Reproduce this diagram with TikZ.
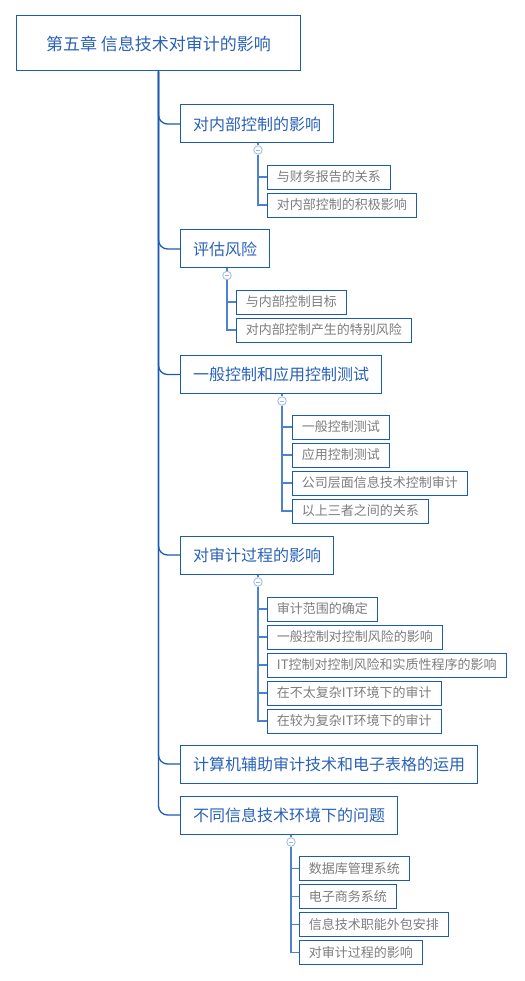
\documentclass[tikz,border=0pt]{standalone}
\usepackage{fontspec}
\setmainfont{Noto Sans CJK SC}
\usepackage{xcolor}
\usetikzlibrary{positioning}

\definecolor{mmblue}{HTML}{1C5BB4}
\definecolor{mmtext}{HTML}{2A62B8}
\definecolor{mmgray}{HTML}{7D7D7D}
\definecolor{mmline}{HTML}{4F82CC}
\definecolor{mmtoggle}{HTML}{9BB6E2}

\begin{document}
\begin{tikzpicture}[
				x=1pt, y=-1pt,
				rootbox/.style={
					rectangle,
					draw=mmblue,
					line width=1pt,
					fill=white,
					text=mmtext,
					minimum height=55pt,
					inner xsep=29.5pt,
					font=\fontsize{17pt}{20pt}\selectfont
				},
				topic/.style={
					rectangle,
					draw=mmblue,
					line width=1pt,
					fill=white,
					text=mmtext,
					anchor=west,
					minimum height=38pt,
					inner xsep=12.5pt,
					font=\fontsize{16pt}{19pt}\selectfont
				},
				subtopic/.style={
					rectangle,
					draw=mmblue,
					line width=0.9pt,
					fill=white,
					text=mmgray,
					anchor=west,
					minimum height=24pt,
					inner xsep=9.5pt,
					font=\fontsize{13pt}{15pt}\selectfont
				},
				toggle/.style={
					circle,
					draw=mmtoggle,
					line width=0.8pt,
					fill=white,
					minimum size=8.5pt,
					inner sep=0pt,
					path picture={\draw[mmtoggle, line width=0.8pt]
						([xshift=-2.2pt]path picture bounding box.center) --
						([xshift=2.2pt]path picture bounding box.center);}
				},
				trunk/.style={draw=mmblue, line width=1.3pt, rounded corners=9pt},
				twig/.style={draw=mmline, line width=1.1pt}
				]
				
				\useasboundingbox (0,0) rectangle (524,981);
				
				% Root
				\node[rootbox] (root) at (158.5,43.5) {第五章 信息技术对审计的影响};
				
				% Main topics
				\node[topic] (ctrl) at (180,124) {对内部控制的影响};
				\node[topic] (risk) at (180,249) {评估风险};
				\node[topic] (test) at (180,374.5) {一般控制和应用控制测试};
				\node[topic] (proc) at (180,555) {对审计过程的影响};
				\node[topic] (caat) at (180,764) {计算机辅助审计技术和电子表格的运用};
				\node[topic] (env) at (180,815) {不同信息技术环境下的问题};
				
				% Trunk
				\foreach \t in {ctrl,risk,test,proc,caat,env}
				\draw[trunk] (root.south) |- (\t.west);
				
				% Subtopics
				\node[subtopic] (ctrl-a) at (267,177) {与财务报告的关系};
				\node[subtopic] (ctrl-b) at (267,205) {对内部控制的积极影响};
				
				\node[subtopic] (risk-a) at (236,302) {与内部控制目标};
				\node[subtopic] (risk-b) at (236,330) {对内部控制产生的特别风险};
				
				\node[subtopic] (test-a) at (292,427) {一般控制测试};
				\node[subtopic] (test-b) at (292,455) {应用控制测试};
				\node[subtopic] (test-c) at (292,483) {公司层面信息技术控制审计};
				\node[subtopic] (test-d) at (292,511) {以上三者之间的关系};
				
				\node[subtopic] (proc-a) at (267,609) {审计范围的确定};
				\node[subtopic] (proc-b) at (267,637) {一般控制对控制风险的影响};
				\node[subtopic] (proc-c) at (267,665) {IT控制对控制风险和实质性程序的影响};
				\node[subtopic] (proc-d) at (267,693) {在不太复杂IT环境下的审计};
				\node[subtopic] (proc-e) at (267,721) {在较为复杂IT环境下的审计};
				
				\node[subtopic] (env-a) at (299,868.5) {数据库管理系统};
				\node[subtopic] (env-b) at (299,896.5) {电子商务系统};
				\node[subtopic] (env-c) at (299,924.5) {信息技术职能外包安排};
				\node[subtopic] (env-d) at (299,952.5) {对审计过程的影响};
				
				% Toggles
				\node[toggle] (ctrl-t) at (258,150) {};
				\node[toggle] (risk-t) at (227,275.5) {};
				\node[toggle] (test-t) at (282,401) {};
				\node[toggle] (proc-t) at (258,582) {};
				\node[toggle] (env-t) at (291,842) {};
				
				% Branches
				\foreach \p/\kids in {ctrl/{a,b}, risk/{a,b}, test/{a,b,c,d}, proc/{a,b,c,d,e}, env/{a,b,c,d}} {
					\draw[twig] (\p.south -| \p-t) -- (\p-t);
					\foreach \k in \kids
					\draw[twig] (\p-t) |- (\p-\k.west);
				}
				
			\end{tikzpicture}
\end{document}
